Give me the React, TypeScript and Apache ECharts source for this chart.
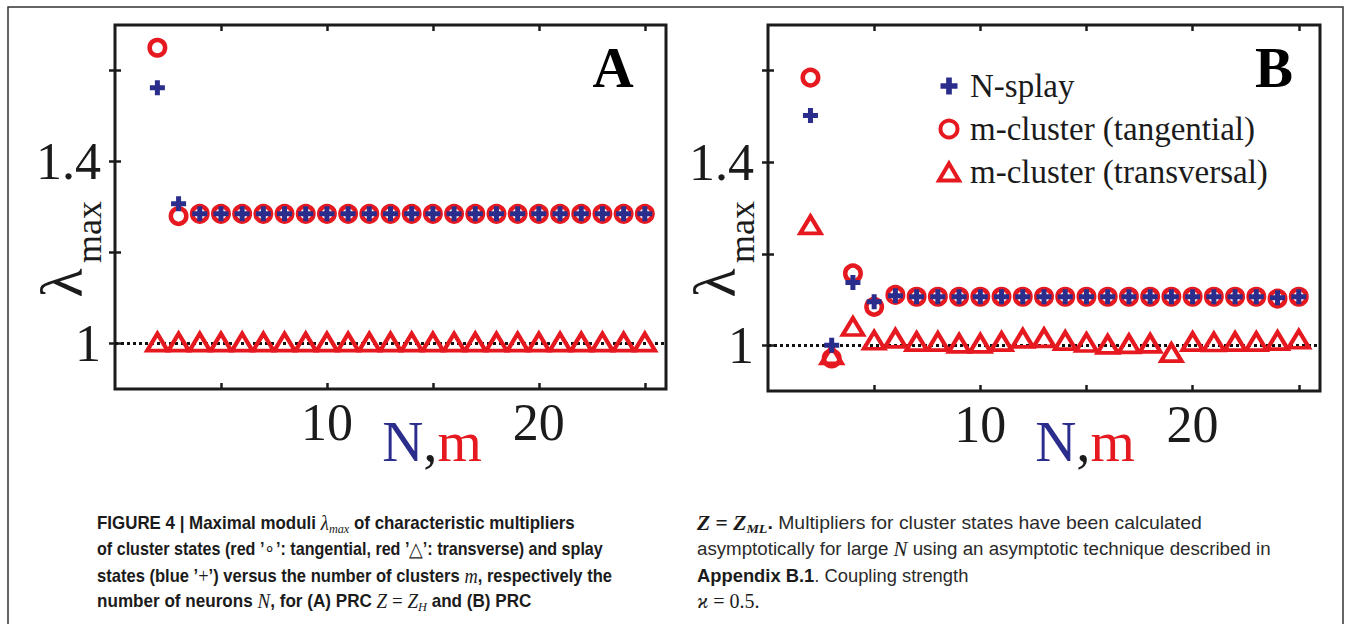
import React, { useEffect, useRef } from "react";
import * as echarts from "echarts";

// ---------- data ----------
const clusterCounts = [2, 3, 4, 5, 6, 7, 8, 9, 10, 11, 12, 13, 14, 15, 16, 17, 18, 19, 20, 21, 22, 23, 24, 25];

// Panel A (PRC Z = Z_H)
const splayA = [1.562, 1.307, 1.285, 1.285, 1.285, 1.285, 1.285, 1.285, 1.285, 1.285, 1.285, 1.285, 1.285, 1.285, 1.285, 1.285, 1.285, 1.285, 1.285, 1.285, 1.285, 1.285, 1.285, 1.285];
const tangentialA = [1.65, 1.28, 1.285, 1.285, 1.285, 1.285, 1.285, 1.285, 1.285, 1.285, 1.285, 1.285, 1.285, 1.285, 1.285, 1.285, 1.285, 1.285, 1.285, 1.285, 1.285, 1.285, 1.285, 1.285];
const transversalA = [1.003, 1.003, 1.003, 1.003, 1.003, 1.003, 1.003, 1.003, 1.003, 1.003, 1.003, 1.003, 1.003, 1.003, 1.003, 1.003, 1.003, 1.003, 1.003, 1.003, 1.003, 1.003, 1.003, 1.003];

// Panel B (PRC Z = Z_ML)
const splayB = [1.502, 1.0, 1.137, 1.095, 1.108, 1.106, 1.106, 1.106, 1.106, 1.106, 1.106, 1.106, 1.106, 1.106, 1.106, 1.106, 1.106, 1.106, 1.106, 1.106, 1.106, 1.106, 1.104, 1.106];
const tangentialB = [1.585, 0.971, 1.157, 1.084, 1.11, 1.106, 1.106, 1.106, 1.106, 1.106, 1.106, 1.106, 1.106, 1.106, 1.106, 1.106, 1.106, 1.106, 1.106, 1.106, 1.106, 1.106, 1.102, 1.106];
const transversalB = [1.263, 0.979, 1.041, 1.011, 1.015, 1.008, 1.008, 1.004, 1.004, 1.008, 1.015, 1.016, 1.01, 1.006, 1.002, 1.003, 1.004, 0.984, 1.008, 1.007, 1.008, 1.008, 1.01, 1.013];

const xTickValues = [5, 10, 15, 20, 25];
const xLabelValues = [10, 20];
const yTickValues = [1, 1.2, 1.4, 1.6];
const yLabelValues = [1, 1.4];
const referenceLevel = 1;

const legendNames = ["N-splay", "m-cluster (tangential)", "m-cluster (transversal)"];
const panelLetters = ["A", "B"];

// ---------- style ----------
const RED = "#e5191f";
const BLUE = "#2b2d8c";
const INK = "#1b1b1b";
const SERIF = '"Liberation Serif", "Times New Roman", serif';
const SANS = '"Liberation Sans", Arial, sans-serif';
const PLUS = "path://M5,0H10V5H15V10H10V15H5V10H0V5H5Z";

const frames = [
  { left: 115, right: 666, top: 25, bottom: 389 },
  { left: 768, right: 1320, top: 25, bottom: 391 },
];

function xAxes(gridIndex: number) {
  const base = {
    type: "value" as const,
    gridIndex,
    min: 0,
    max: 26,
    axisLine: { show: false },
    splitLine: { show: false },
    axisTick: {
      show: true,
      inside: true,
      length: 6,
      lineStyle: { color: INK, width: 2.5 },
      customValues: xTickValues,
    },
  };
  return [
    {
      ...base,
      position: "bottom",
      axisLabel: {
        show: true,
        customValues: xLabelValues,
        margin: 7,
        color: INK,
        fontFamily: SERIF,
        fontSize: 52,
      },
    },
    { ...base, position: "top", axisLabel: { show: false } },
  ];
}

function yAxes(gridIndex: number) {
  const base = {
    type: "value" as const,
    gridIndex,
    min: 0.9,
    max: 1.7,
    axisLine: { show: false },
    splitLine: { show: false },
    axisTick: {
      show: true,
      inside: true,
      length: 6,
      lineStyle: { color: INK, width: 2.5 },
      customValues: yTickValues,
    },
  };
  return [
    {
      ...base,
      position: "left",
      axisLabel: {
        show: true,
        customValues: yLabelValues,
        margin: 14,
        color: INK,
        fontFamily: SERIF,
        fontSize: 52,
      },
    },
    { ...base, position: "right", axisLabel: { show: false } },
  ];
}

function panelSeries(p: number, splay: number[], tang: number[], trans: number[]) {
  const xi = p * 2;
  const yi = p * 2;
  const pts = (vals: number[]) => clusterCounts.map((n, k) => [n, vals[k]]);
  return [
    {
      type: "scatter",
      name: legendNames[1],
      xAxisIndex: xi,
      yAxisIndex: yi,
      symbol: "circle",
      symbolSize: 15.5,
      itemStyle: { color: "rgba(0,0,0,0)", borderColor: RED, borderWidth: 4.5, opacity: 1 },
      data: pts(tang),
      z: 2,
    },
    {
      type: "scatter",
      name: legendNames[2],
      xAxisIndex: xi,
      yAxisIndex: yi,
      symbol: "triangle",
      symbolSize: [20.5, 17],
      itemStyle: { color: "rgba(0,0,0,0)", borderColor: RED, borderWidth: 4, opacity: 1 },
      data: pts(trans),
      z: 3,
      markLine: {
        silent: true,
        symbol: ["none", "none"],
        label: { show: false },
        lineStyle: { type: [3, 3], width: 2.8, color: "#111" },
        data: [{ yAxis: referenceLevel }],
        z: 1,
      },
    },
    {
      type: "scatter",
      name: legendNames[0],
      xAxisIndex: xi,
      yAxisIndex: yi,
      symbol: PLUS,
      symbolSize: 15,
      itemStyle: { color: BLUE, opacity: 1 },
      data: pts(splay),
      z: 4,
    },
  ];
}

function panelGraphics(p: number) {
  const f = frames[p];
  const dx = f.left - frames[0].left;
  return [
    {
      type: "text",
      x: 62 + dx,
      y: 283,
      rotation: Math.PI / 2,
      style: { text: "λ", fontFamily: SERIF, fontSize: 60, fill: INK, align: "center", verticalAlign: "middle" },
    },
    {
      type: "text",
      x: 89 + dx,
      y: 232,
      rotation: Math.PI / 2,
      style: { text: "max", fontFamily: SERIF, fontSize: 36, fill: INK, align: "center", verticalAlign: "middle" },
    },
    {
      type: "text",
      x: 432 + dx,
      y: 441,
      style: {
        text: "{n|N}{c|,}{m|m}",
        align: "center",
        verticalAlign: "middle",
        rich: {
          n: { fontFamily: SERIF, fontSize: 57, fill: BLUE },
          c: { fontFamily: SERIF, fontSize: 57, fill: INK },
          m: { fontFamily: SERIF, fontSize: 57, fill: RED },
        },
      },
    },
    {
      type: "text",
      x: f.right - (p === 0 ? 53 : 46),
      y: 67,
      style: {
        text: panelLetters[p],
        fontFamily: SERIF,
        fontWeight: "bold",
        fontSize: 57,
        fill: "#000",
        align: "center",
        verticalAlign: "middle",
      },
    },
  ];
}

const capRich = {
  b: { fontFamily: SANS, fontWeight: "bold", fontSize: 18, lineHeight: 24, fill: INK },
  r: { fontFamily: SANS, fontSize: 18, lineHeight: 24, fill: "#2a2a2a" },
  mi: { fontFamily: SERIF, fontStyle: "italic", fontSize: 20, lineHeight: 24, fill: INK },
  mib: { fontFamily: SERIF, fontStyle: "italic", fontWeight: "bold", fontSize: 20, lineHeight: 24, fill: INK },
  m: { fontFamily: SERIF, fontSize: 20, lineHeight: 24, fill: INK },
  mb: { fontFamily: SERIF, fontWeight: "bold", fontSize: 20, lineHeight: 24, fill: INK },
  sub: { fontFamily: SERIF, fontStyle: "italic", fontSize: 13, lineHeight: 13, verticalAlign: "bottom", fill: INK },
  subb: { fontFamily: SERIF, fontStyle: "italic", fontWeight: "bold", fontSize: 13, lineHeight: 13, verticalAlign: "bottom", fill: INK },
};

const captionLeft = [
  "{b|FIGURE 4 | Maximal moduli }{mi|λ}{sub|max}{b| of characteristic multipliers}",
  "{b|of cluster states (red ’}{m|∘}{b|’: tangential, red ’}{m|△}{b|’: transverse) and splay}",
  "{b|states (blue ’}{m|+}{b|’) versus the number of clusters }{mi|m}{b|, respectively the}",
  "{b|number of neurons }{mi|N}{b|, for (A) PRC }{mi|Z}{m| = }{mi|Z}{sub|H}{b| and (B) PRC}",
];
const captionRight = [
  "{mib|Z}{mb| = }{mib|Z}{subb|ML}{b|.}{r| Multipliers for cluster states have been calculated}",
  "{r|asymptotically for large }{mi|N}{r| using an asymptotic technique described in}",
  "{b|Appendix B.1}{r|. Coupling strength}",
  "{mi|ϰ}{m| = 0.5.}",
];
const captionLineY = [523, 549, 576, 601];
const leftScale = [0.94, 0.895, 0.92, 0.95];
const rightScale = [1.078, 1.04, 1.02, 1.0];

function captionGraphics() {
  const out: any[] = [];
  captionLeft.forEach((t, i) =>
    out.push({
      type: "text",
      x: 97,
      y: captionLineY[i],
      scaleX: leftScale[i],
      style: { text: t, rich: capRich, align: "left", verticalAlign: "middle" },
    })
  );
  captionRight.forEach((t, i) =>
    out.push({
      type: "text",
      x: 697,
      y: captionLineY[i],
      scaleX: rightScale[i],
      style: { text: t, rich: capRich, align: "left", verticalAlign: "middle" },
    })
  );
  return out;
}

export default function App() {
  const ref = useRef<HTMLDivElement>(null);
  useEffect(() => {
    if (!ref.current) return;
    const chart = echarts.init(ref.current, undefined, { renderer: "svg" });
    const option: any = {
      animation: false,
      backgroundColor: "#ffffff",
      grid: frames.map((f) => ({
        left: f.left,
        top: f.top,
        width: f.right - f.left,
        height: f.bottom - f.top,
        show: true,
        borderColor: INK,
        borderWidth: 3,
        backgroundColor: "rgba(0,0,0,0)",
        containLabel: false,
      })),
      xAxis: [...xAxes(0), ...xAxes(1)],
      yAxis: [...yAxes(0), ...yAxes(1)],
      legend: {
        orient: "vertical",
        left: 932,
        top: 64,
        itemWidth: 20,
        itemHeight: 17,
        itemGap: 9,
        selectedMode: false,
        textStyle: { fontFamily: SERIF, fontSize: 33, color: INK, lineHeight: 34, padding: [0, 0, 0, 6] },
        data: [
          { name: legendNames[0], icon: PLUS, itemStyle: { color: BLUE } },
          {
            name: legendNames[1],
            icon: "circle",
            itemStyle: { color: "rgba(0,0,0,0)", borderColor: RED, borderWidth: 4 },
          },
          {
            name: legendNames[2],
            icon: "triangle",
            itemStyle: { color: "rgba(0,0,0,0)", borderColor: RED, borderWidth: 4 },
          },
        ],
      },
      series: [
        ...panelSeries(0, splayA, tangentialA, transversalA),
        ...panelSeries(1, splayB, tangentialB, transversalB),
      ],
      graphic: [
        {
          type: "rect",
          shape: { x: 8, y: 7, width: 1335, height: 640 },
          style: { fill: "none", stroke: "#333", lineWidth: 1.5 },
          z: -1,
        },
        ...panelGraphics(0),
        ...panelGraphics(1),
        ...captionGraphics(),
      ],
    };
    chart.setOption(option);
    return () => chart.dispose();
  }, []);
  return (
    <div
      ref={ref}
      style={{ position: "fixed", left: 0, top: 0, width: 1353, height: 624, background: "#fff" }}
    />
  );
}
